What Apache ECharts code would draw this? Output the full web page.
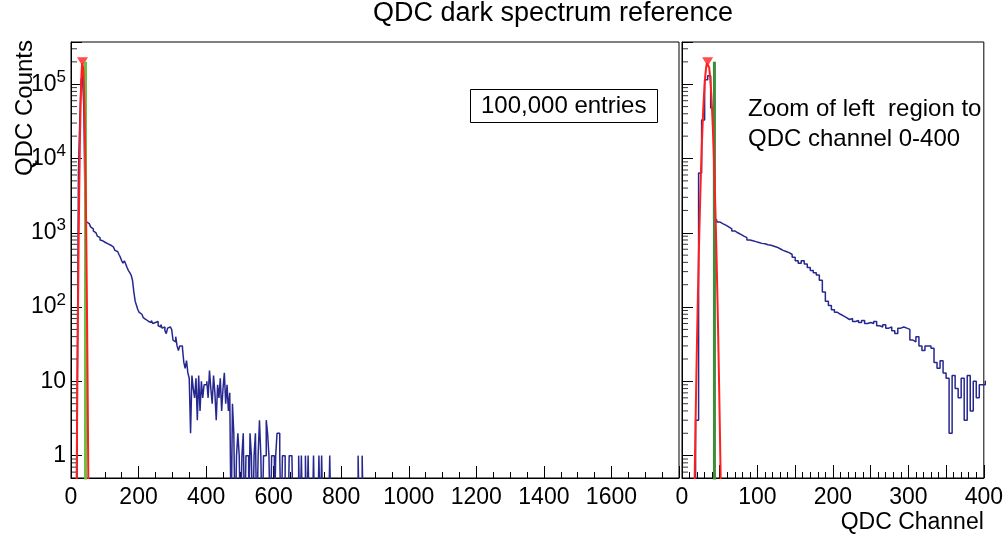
<!DOCTYPE html>
<html><head><meta charset="utf-8">
<script src="https://cdn.jsdelivr.net/npm/echarts@6/dist/echarts.min.js"></script>
<style>html,body{margin:0;padding:0;background:#fff}#c{width:1006px;height:540px}</style>
</head><body><div id="c"></div>
<script>
// ---- data ----
const binStart = 2;      // first bin lower edge (QDC channel)
const binWidth = 4;      // channels per bin
const counts = [
 0,0,0,0,3,6400,33000,115000,130000,48000,1500,
 1400,1330,1270,1200,1130,1060,1000,950,900,860,
 800,780,760,740,720,710,690,680,660,640,
 610,580,560,540,510,470,420,390,420,380,
 340,310,290,270,230,160,120,105,92,85,
 80,76,72,68,70,64,66,62,66,60,
 62,60,64,56,54,58,52,54,48,44,
 52,54,52,50,36,34,40,30,26,30,
 30,28,18,15,19,13,11,2,12,8,
 6,11,3,12,4,10,6,9,9,10,
 6,14,8,5,12,7,3,9,6,11,
 4,8,13,5,9,4,7,0,5,2,
 0,1,2,1,0,1,2,0,1,1,
 0,2,1,0,1,2,0,1,3,1,
 0,1,1,3,2,1,0,1,1,0,
 1,2,2,1,0,1,1,0,0,0,
 1,1,1,0,0,0,0,1,0,1,
 0,0,1,0,1,0,0,0,1,0,
 0,0,1,0,1,0,0,0,0,0,
 1,0,0,0,0,0,0,0,0,0,
 0,0,0,0,0,0,0,0,0,0,
 0,1,0,0,1,0
];
const fitX = [16,17,18,19,20,21,22,23,24,25,26,27,28,29,30,31,32,33,34,35,36,37,38,39,40,41,42,43,44,45,46,47,48,49,50,51,52];
const fitY = [0.15,0.7,2.9,11.3,40,129,382,1040,2580,5920,12400,23800,41800,67400,99700,135000,168000,191500,200000,191500,168000,135000,99700,67400,41800,23800,12400,5920,2580,1040,382,129,40,11.3,2.9,0.7,0.15];
const peakChannel = 34, peakValue = 200000;
const thresholdChannel = 43, thresholdTop = 200000;
const yMin = 0.5, yMax = 370000;
const leftXMax = 1800, rightXMax = 400;
const minorTickValues = [0.6,0.7,0.8,0.9,2,3,4,5,6,7,8,9,20,30,40,50,60,70,80,90,200,300,400,500,600,700,800,900,
 2000,3000,4000,5000,6000,7000,8000,9000,20000,30000,40000,50000,60000,70000,80000,90000,200000,300000];
const titleText = 'QDC dark spectrum reference';
const entriesText = '100,000 entries';
const zoomNote = 'Zoom of left  region to\nQDC channel 0-400';
const xName = 'QDC Channel', yName = 'QDC Counts';

// ---- build ----
const FONT = "'Liberation Sans', Arial, Helvetica, sans-serif";
const BELOW = 0.1; // empty bins are drawn down past the axis floor (clipped)
const histData = counts.map((c, i) => [binStart + i * binWidth, c > 0 ? c : BELOW]);
histData.push([binStart + counts.length * binWidth, BELOW]);
const fitData = fitX.map((x, i) => [x, fitY[i]]);
const threshData = [[thresholdChannel, BELOW], [thresholdChannel, thresholdTop]];
const minorData = minorTickValues.map(v => [0, v]);

function logLabel(v) {
  const l = Math.log10(v), e = Math.round(l);
  if (Math.abs(l - e) > 1e-6) return '';
  if (e === 0) return '{b|1}';
  if (e === 1) return '{b|10}';
  return '{b|10}{s|' + e + '}';
}
const richLbl = {
  b: {fontSize: 23, lineHeight: 31, verticalAlign: 'middle', fontFamily: FONT, color: '#000'},
  s: {fontSize: 17, lineHeight: 17, verticalAlign: 'top', fontFamily: FONT, color: '#000'}
};
const tickLine = {color: '#000', width: 1};

function yAxisOpt(gi, showLabels) {
  return {
    type: 'log', logBase: 10, gridIndex: gi, min: yMin, max: yMax,
    axisLine: {show: true, lineStyle: tickLine},
    axisTick: {show: true, inside: true, length: 11, lineStyle: tickLine},
    splitLine: {show: false},
    axisLabel: {show: showLabels, formatter: logLabel, rich: richLbl, margin: 5}
  };
}

const chart = echarts.init(document.getElementById('c'), null, {renderer: 'canvas'});
const NAVY = '#262890';
chart.setOption({
  animation: false,
  backgroundColor: '#fff',
  title: [
    {text: titleText, left: 373, top: 0, padding: 0,
     textStyle: {fontSize: 27, fontWeight: 'normal', color: '#000', fontFamily: FONT}},
    {text: entriesText, left: 470, top: 89, padding: [5, 11, 5, 11], borderColor: '#000', borderWidth: 1,
     textStyle: {fontSize: 24, fontWeight: 'normal', color: '#000', fontFamily: FONT}},
    {text: zoomNote, left: 748, top: 94, padding: 0,
     textStyle: {fontSize: 24, lineHeight: 30, fontWeight: 'normal', color: '#000', fontFamily: FONT}}
  ],
  graphic: [
    {type: 'text', x: 25, y: 40, rotation: Math.PI / 2,
     style: {text: yName, fill: '#000', font: '24px ' + FONT, align: 'right', verticalAlign: 'middle'}}
  ],
  grid: [
    {left: 71, top: 42, width: 608, height: 436, show: true, borderColor: '#000', borderWidth: 1},
    {left: 682, top: 42, width: 304, height: 436, show: true, borderColor: '#000', borderWidth: 1}
  ],
  xAxis: [
    {type: 'value', gridIndex: 0, min: 0, max: leftXMax, interval: 200,
     axisLine: {lineStyle: tickLine},
     axisTick: {inside: true, length: 12, lineStyle: tickLine},
     minorTick: {show: true, splitNumber: 4, length: 6, lineStyle: tickLine},
     splitLine: {show: false}, minorSplitLine: {show: false},
     axisLabel: {fontSize: 23, color: '#000', fontFamily: FONT, margin: 8, showMaxLabel: false,
       formatter: v => String(v)}},
    {type: 'value', gridIndex: 1, min: 0, max: rightXMax, interval: 50,
     name: xName, nameLocation: 'end', nameGap: 0,
     nameTextStyle: {fontSize: 23, color: '#000', fontFamily: FONT, align: 'right', verticalAlign: 'top', padding: [33, 0, 0, 0]},
     axisLine: {lineStyle: tickLine},
     axisTick: {inside: true, length: 13, lineStyle: tickLine},
     minorTick: {show: true, splitNumber: 5, length: 6, lineStyle: tickLine},
     splitLine: {show: false}, minorSplitLine: {show: false},
     axisLabel: {fontSize: 23, color: '#000', fontFamily: FONT, margin: 8,
       formatter: v => (v % 100 === 0 ? String(v) : '')}}
  ],
  yAxis: [yAxisOpt(0, true), yAxisOpt(1, false)],
  series: [
    {type: 'line', xAxisIndex: 0, yAxisIndex: 0, data: histData, step: 'end', symbol: 'none', clip: true,
     lineStyle: {color: NAVY, width: 1.5}},
    {type: 'line', xAxisIndex: 1, yAxisIndex: 1, data: histData, step: 'end', symbol: 'none', clip: true,
     lineStyle: {color: NAVY, width: 1.5}},
    {type: 'line', xAxisIndex: 0, yAxisIndex: 0, data: threshData, symbol: 'none', clip: true,
     lineStyle: {color: '#6cbf45', width: 3}},
    {type: 'line', xAxisIndex: 1, yAxisIndex: 1, data: threshData, symbol: 'none', clip: true,
     lineStyle: {color: '#3d8d3d', width: 3}},
    {type: 'line', xAxisIndex: 0, yAxisIndex: 0, data: fitData, symbol: 'none', clip: true,
     lineStyle: {color: '#ff1f1f', width: 2}},
    {type: 'line', xAxisIndex: 1, yAxisIndex: 1, data: fitData, symbol: 'none', clip: true,
     lineStyle: {color: '#ff1f1f', width: 2}},
    {type: 'scatter', xAxisIndex: 0, yAxisIndex: 0, data: [[peakChannel, peakValue]],
     symbol: 'triangle', symbolRotate: 180, symbolSize: [11, 9], itemStyle: {color: '#ff1f1f'}},
    {type: 'scatter', xAxisIndex: 1, yAxisIndex: 1, data: [[peakChannel, peakValue]],
     symbol: 'triangle', symbolRotate: 180, symbolSize: [11, 9], itemStyle: {color: '#ff1f1f'}},
    {type: 'scatter', xAxisIndex: 0, yAxisIndex: 0, data: minorData, silent: true,
     symbol: 'rect', symbolSize: [6, 1], symbolOffset: [3, 0], itemStyle: {color: '#000'}},
    {type: 'scatter', xAxisIndex: 1, yAxisIndex: 1, data: minorData, silent: true,
     symbol: 'rect', symbolSize: [6, 1], symbolOffset: [3, 0], itemStyle: {color: '#000'}}
  ]
});
</script>
</body></html>
